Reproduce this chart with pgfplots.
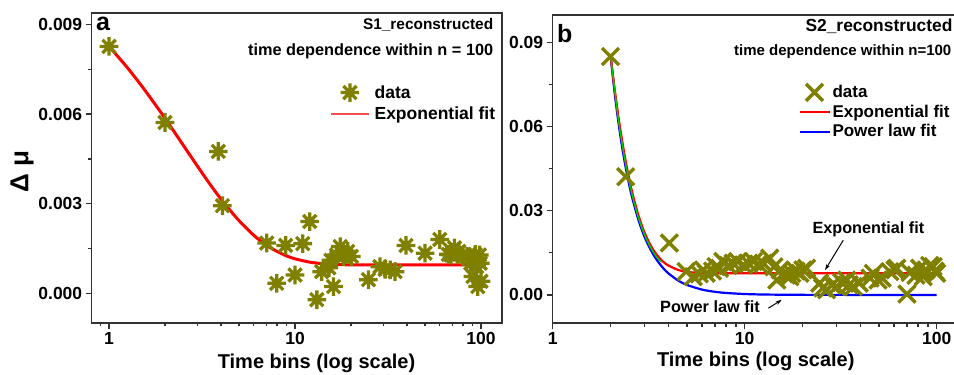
\documentclass[border=0pt]{standalone}
\usepackage{fontspec}
\setmainfont{Liberation Sans}
\usepackage{pgfplots}
\pgfplotsset{compat=1.18}
\usetikzlibrary{arrows.meta}
\definecolor{dataolive}{RGB}{128,128,0}
\definecolor{axgray}{RGB}{50,50,50}
\definecolor{pinkred}{RGB}{240,80,80}
\pgfdeclareplotmark{star8}{%
 \pgfpathmoveto{\pgfqpoint{0pt}{\pgfplotmarksize}}\pgfpathlineto{\pgfqpoint{0pt}{-\pgfplotmarksize}}%
 \pgfpathmoveto{\pgfqpoint{\pgfplotmarksize}{0pt}}\pgfpathlineto{\pgfqpoint{-\pgfplotmarksize}{0pt}}%
 \pgfpathmoveto{\pgfqpoint{.7071\pgfplotmarksize}{.7071\pgfplotmarksize}}\pgfpathlineto{\pgfqpoint{-.7071\pgfplotmarksize}{-.7071\pgfplotmarksize}}%
 \pgfpathmoveto{\pgfqpoint{-.7071\pgfplotmarksize}{.7071\pgfplotmarksize}}\pgfpathlineto{\pgfqpoint{.7071\pgfplotmarksize}{-.7071\pgfplotmarksize}}%
 \pgfusepathqstroke}
\pgfplotsset{myax/.style={
  scale only axis,
  axis line style={line width=1.5pt, color=axgray},
  tick align=outside, xtick pos=bottom, ytick pos=left,
  major tick length=6pt, minor tick length=3.5pt,
  every tick/.style={line width=1.3pt, color=axgray},
  xtick={1,10,100}, xticklabels={1,10,100},
  tick label style={font=\fontsize{17.5}{19}\selectfont\bfseries},
  /pgf/number format/assume math mode=true,
  scaled y ticks=false,
  label style={font=\fontsize{20}{22}\selectfont\bfseries},
  legend style={draw=none, fill=none, inner sep=0pt, row sep=4pt},
  legend cell align=left,
}}
\pgfplotstableread{
x y
1 0.00827
2 0.00572
3.87 0.00475
4.07 0.00293
7.04 0.00168
7.97 0.00033
8.9 0.00160
10 0.00061
11 0.00166
12 0.00240
13.1 -0.00022
13.9 0.00072
15.2 0.00085
15.6 0.00110
16.1 0.00022
16.7 0.00128
17.5 0.00156
18.2 0.00123
19.2 0.00140
20.1 0.00123
24.8 0.00045
28.6 0.00089
30.5 0.00080
32.5 0.00078
34.5 0.00072
39.5 0.00160
50 0.00134
60 0.00180
66.7 0.00130
69 0.00128
72 0.00152
76 0.00140
80 0.00122
84 0.00123
88 0.00100
90.5 0.00056
93 0.00130
94.6 0.00089
96 0.00022
98 0.00128
99 0.00100
100 0.00040
}\dataA
\pgfplotstableread{
x y
1 0.00827
1.25 0.00757
1.5 0.00694
1.75 0.00637
2 0.00586
2.5 0.00497
3 0.00424
3.5 0.00364
4 0.00315
4.5 0.00276
5 0.00243
6 0.00194
7 0.00161
8 0.00140
9 0.00125
10 0.00115
12 0.00104
14 0.00099
17 0.00096
20 0.00095
30 0.00095
50 0.00095
100 0.00095
}\fitA
\pgfplotstableread{
x y
2 0.0849
2.4 0.0421
4.05 0.0185
4.95 0.0083
5.4 0.0065
5.8 0.0075
6.1 0.0089
6.3 0.0077
6.8 0.0085
7.1 0.0101
7.4 0.0095
7.7 0.0119
8.2 0.0105
8.7 0.0113
9.2 0.0118
9.85 0.0107
10.5 0.0112
11.1 0.0119
11.8 0.0110
12.5 0.0113
13.5 0.0131
14.2 0.0100
14.7 0.0053
15.3 0.0089
16.0 0.0075
16.5 0.0070
17.2 0.0065
17.6 0.0077
18.5 0.0085
19.4 0.0077
20.1 0.0089
21.0 0.0095
24.6 0.0042
25.5 0.0025
26.7 0.0018
28.5 0.0035
30.1 0.0030
32 0.0045
34 0.0053
35 0.0036
36.8 0.0030
39.5 0.0042
45 0.0060
46.8 0.0077
49.5 0.0053
52 0.0060
57 0.0083
60.6 0.0089
62 0.0095
70 0.0003
72.6 0.0080
78 0.0070
81.5 0.0095
85 0.0065
88 0.0089
92 0.0105
95.8 0.0101
98 0.0085
100 0.0077
}\dataB
\pgfplotstableread{
x y
2 0.0855
2.1 0.0736
2.2 0.0634
2.3 0.0549
2.4 0.0476
2.5 0.0415
2.6 0.0363
2.8 0.0282
3 0.0224
3.25 0.0174
3.5 0.0141
3.75 0.0119
4 0.0105
4.5 0.0089
5 0.0082
6 0.0078
7 0.0077
10 0.0077
30 0.0077
100 0.0077
}\expB
\pgfplotstableread{
x y
2 0.0855
2.1 0.0722
2.2 0.0614
2.3 0.0526
2.4 0.0454
2.5 0.0394
2.6 0.0344
2.8 0.0266
3 0.0209
3.25 0.0159
3.5 0.01226
3.75 0.00965
4 0.00772
4.5 0.00513
5 0.00356
6 0.00189
7 0.00111
8 0.00070
10 0.00032
13 0.00013
20 0.00003
30 0.00001
100 0.0
}\powB
\pgfplotstableread{
x y
2 0.0855
2.2 0.0624
2.4 0.0465
2.6 0.0353
2.8 0.0274
3 0.0216
3.25 0.0166
3.5 0.0132
3.7 0.0117
}\greenB
\begin{document}
\begin{tikzpicture}
\useasboundingbox (0,0) rectangle (954pt,375pt);
% ---------- panel a ----------
\begin{semilogxaxis}[myax,
  at={(91.7pt,52pt)}, anchor=south west,
  width=410.3pt, height=310pt,
  xmin=0.807, xmax=129.6,
  ymin=-0.001, ymax=0.00939,
  minor xtick={0.9,2,3,4,5,6,7,8,9,20,30,40,50,60,70,80,90},
  ytick={0,0.003,0.006,0.009},
  minor ytick={0.0015,0.0045,0.0075},
  yticklabel style={/pgf/number format/fixed, /pgf/number format/precision=3, /pgf/number format/fixed zerofill},
  xlabel={Time bins (log scale)},
  xlabel style={at={(axis description cs:0.548,-0.129)}, anchor=center},
  ylabel={Δ μ},
  ylabel style={at={(axis description cs:-0.170,0.49)}, anchor=center, font=\fontsize{26}{28}\selectfont\bfseries},
  legend style={at={(rel axis cs:0.581,0.774)}, anchor=north west, font=\fontsize{17.5}{19}\selectfont\bfseries,
     nodes={inner xsep=5pt, inner ysep=1pt}},
  legend image code/.code={\draw[mark repeat=2,mark phase=2,#1] plot coordinates {(0pt,0pt) (19pt,0pt) (38pt,0pt)};},
]
\addplot[only marks, mark=star8, mark size=9.3pt, color=dataolive, line width=3.3pt, forget plot] table {\dataA};
\addplot[red, line width=3pt, smooth, forget plot] table {\fitA};
\addlegendimage{only marks, mark=star8, mark size=9.3pt, color=dataolive, line width=3.3pt}
\addlegendentry{data}
\addlegendimage{color=pinkred, line width=1.3pt}
\addlegendentry{Exponential fit}
\node[anchor=center, font=\fontsize{25}{27}\selectfont\bfseries, inner sep=0pt] at (rel axis cs:0.028,0.965) {a};
\node[anchor=east, font=\fontsize{15.4}{17}\selectfont\bfseries, inner sep=0pt] at (rel axis cs:0.979,0.961) {S1\_reconstructed};
\node[anchor=east, font=\fontsize{16.3}{18}\selectfont\bfseries, inner sep=0pt] at (rel axis cs:0.979,0.875) {time dependence within n = 100};
\end{semilogxaxis}
% ---------- panel b ----------
\begin{semilogxaxis}[myax,
  at={(552.7pt,52pt)}, anchor=south west,
  width=405.3pt, height=308pt,
  xmin=1, xmax=129.1,
  ymin=-0.01, ymax=0.0997,
  minor xtick={2,3,4,5,6,7,8,9,20,30,40,50,60,70,80,90},
  ytick={0,0.03,0.06,0.09},
  minor ytick={0.015,0.045,0.075},
  yticklabel style={/pgf/number format/fixed, /pgf/number format/precision=2, /pgf/number format/fixed zerofill},
  xlabel={Time bins (log scale)},
  xlabel style={at={(axis description cs:0.501,-0.126)}, anchor=center},
  legend style={at={(rel axis cs:0.606,0.777)}, anchor=north west, font=\fontsize{17}{19}\selectfont\bfseries,
     nodes={inner xsep=2pt, inner ysep=1pt}, row sep=3.5pt},
  legend image code/.code={\draw[mark repeat=2,mark phase=2,#1] plot coordinates {(0pt,0pt) (15pt,0pt) (30pt,0pt)};},
]
\addplot[only marks, mark=x, mark size=12pt, color=dataolive, line width=3.4pt, forget plot] table {\dataB};
\addplot[blue, line width=2.2pt, smooth, forget plot] table {\powB};
\addplot[red, line width=2.2pt, smooth, forget plot] table {\expB};
\addplot[green!80!black, line width=1.4pt, smooth, forget plot] table {\greenB};
\addlegendimage{only marks, mark=x, mark size=12pt, color=dataolive, line width=3.4pt}
\addlegendentry{data}
\addlegendimage{color=red, line width=2pt}
\addlegendentry{Exponential fit}
\addlegendimage{color=blue, line width=2pt}
\addlegendentry{Power law fit}
\node[anchor=center, font=\fontsize{25}{27}\selectfont\bfseries, inner sep=0pt] at (rel axis cs:0.030,0.941) {b};
\node[anchor=east, font=\fontsize{17.4}{19}\selectfont\bfseries, inner sep=0pt] at (rel axis cs:0.987,0.962) {S2\_reconstructed};
\node[anchor=east, font=\fontsize{15}{17}\selectfont\bfseries, inner sep=0pt] at (rel axis cs:0.984,0.881) {time dependence within n=100};
\node[anchor=center, font=\fontsize{16.2}{18}\selectfont\bfseries, inner sep=0pt] at (rel axis cs:0.779,0.304) {Exponential fit};
\node[anchor=center, font=\fontsize{16.3}{18}\selectfont\bfseries, inner sep=0pt] at (rel axis cs:0.388,0.053) {Power law fit};
\draw[line width=1pt, -{Stealth[length=6pt,width=4pt]}] (rel axis cs:0.717,0.269) -- (rel axis cs:0.672,0.172);
\draw[line width=1pt, -{Stealth[length=6pt,width=4pt]}] (rel axis cs:0.532,0.048) -- (rel axis cs:0.565,0.075);
\end{semilogxaxis}
\end{tikzpicture}
\end{document}
